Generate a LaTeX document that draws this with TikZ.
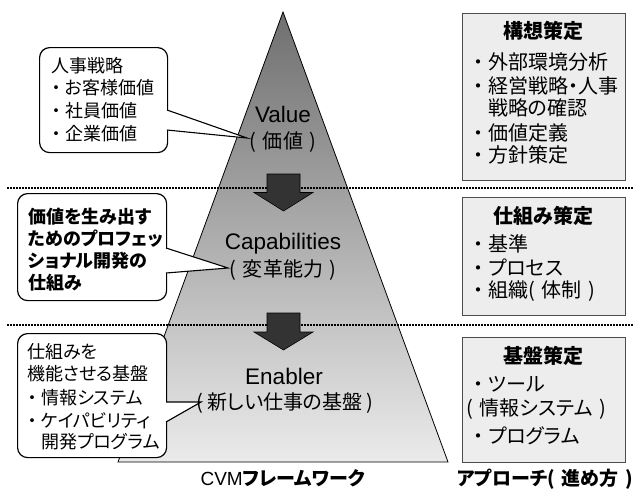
\documentclass[tikz,border=0pt]{standalone}
\usepackage{fontspec}
\setmainfont{Liberation Sans}
\newfontfamily\jp{Noto Sans CJK JP}[RawFeature=+palt]
\newfontfamily\jpf{Noto Sans CJK JP}
\newcommand\bul{{\jpf ・}}
\newcommand\lp{(\hspace{2.5pt} }
\newcommand\rp{ \hspace{2.5pt})}
\definecolor{boxfill}{HTML}{EDEDED}
\definecolor{boxline}{HTML}{4D4D4D}
\definecolor{arrowfill}{HTML}{333333}
\definecolor{tritop}{HTML}{6F6F6F}
\definecolor{tribot}{HTML}{EBEBEB}
\tikzset{
  lt/.style={inner sep=0pt, text height=14.4pt, text depth=3.6pt, anchor=west, font=\jp\fontsize{18}{22}\selectfont},
  lbt/.style={lt, font=\jp\bfseries\fontsize{18}{22}\selectfont},
  rt/.style={inner sep=0pt, text height=16pt, text depth=4pt, anchor=west, font=\jp\fontsize{20}{24}\selectfont},
  rtitle/.style={inner sep=0pt, text height=16pt, text depth=4pt, font=\jp\bfseries\fontsize{20}{24}\selectfont},
  latin/.style={inner sep=0pt, text height=17.6pt, text depth=4.4pt, font=\fontsize{22.5}{26}\selectfont},
  tjp/.style={inner sep=0pt, text height=16pt, text depth=4pt, font=\jp\fontsize{20}{24}\selectfont},
  btm/.style={inner sep=0pt, text height=15.2pt, text depth=3.8pt, font=\fontsize{19}{23}\selectfont},
  callbox/.style={draw=black, line width=1.2pt, fill=white, rounded corners=10pt, inner sep=0pt, anchor=north west},
  apbox/.style={draw=boxline, line width=1.2pt, fill=boxfill, inner sep=0pt, anchor=north west},
  sepline/.style={line width=1.5pt, dash pattern=on 1.5pt off 1.5pt},
  blockarrow/.style={fill=arrowfill, draw=black, line width=0.6pt, line join=miter},
  pointer/.style={draw=black, line width=1.1pt, line join=miter},
}
\begin{document}
\begin{tikzpicture}[x=1pt,y=-1pt]
\useasboundingbox (0,0) rectangle (634,491);
% pyramid
\coordinate (apex) at (283,12);
\coordinate (bl) at (118,462);
\coordinate (br) at (448,462);
\shade[top color=tritop, bottom color=tribot] (apex) -- (br) -- (bl) -- cycle;
\draw[line width=0.8pt] (apex) -- (br) -- (bl) -- cycle;
% separators
\coordinate (s1a) at (7,188); \coordinate (s1b) at (634,188);
\coordinate (s2a) at (7,325); \coordinate (s2b) at (634,325);
\draw[sepline] (s1a) -- (s1b);
\draw[sepline] (s2a) -- (s2b);
% block arrows
\draw[blockarrow, shift={(283.5,174)}] (-16.5,0) -- (16.5,0) -- (16.5,18.5) -- (29.5,18.5) -- (0,37) -- (-29.5,18.5) -- (-16.5,18.5) -- cycle;
\draw[blockarrow, shift={(283.5,313)}] (-16.5,0) -- (16.5,0) -- (16.5,19) -- (29.5,19) -- (0,37) -- (-29.5,19) -- (-16.5,19) -- cycle;
% pyramid labels
\node[latin] (v1) at (283,116) {Value};
\node[tjp] (v2) at (283,142) {\lp 価値\rp};
\node[latin] (c1) at (283,243) {Capabilities};
\node[tjp] (c2) at (283,270) {\lp 変革能力\rp};
\node[latin] (e1) at (284,378) {Enabler};
\node[tjp] (e2) at (285,403) {( 新しい仕事の基盤 )};
% callout 1
\node[callbox, minimum width=128pt, minimum height=105pt] (cb1) at (39,47) {};
\coordinate (p1a) at (167,110); \coordinate (p1b) at (167,130); \coordinate (t1) at (247,138);
\fill[white] ([xshift=-1.3pt]p1a) -- (t1) -- ([xshift=-1.3pt]p1b) -- cycle;
\draw[pointer] (p1a) -- (t1) -- (p1b);
\node[lt] (a1) at (51,67) {人事戦略};
\node[lt] (a2) at (47,89) {\bul お客様価値};
\node[lt] (a3) at (47,112) {\bul 社員価値};
\node[lt] (a4) at (47,135) {\bul 企業価値};
% callout 2
\node[callbox, minimum width=149pt, minimum height=107pt] (cb2) at (17,193) {};
\coordinate (p2a) at (166,248); \coordinate (p2b) at (166,273); \coordinate (t2) at (228,268);
\fill[white] ([xshift=-1.3pt]p2a) -- (t2) -- ([xshift=-1.3pt]p2b) -- cycle;
\draw[pointer] (p2a) -- (t2) -- (p2b);
\node[lbt] (b1) at (28,218) {価値を生み出す};
\node[lbt] (b2) at (28,240) {ためのプロフェッ};
\node[lbt] (b3) at (28,262) {ショナル開発の};
\node[lbt] (b4) at (28,284) {仕組み};
% callout 3
\node[callbox, minimum width=149pt, minimum height=124pt] (cb3) at (17,333) {};
\coordinate (p3a) at (166,402); \coordinate (p3b) at (166,422); \coordinate (t3) at (201,402);
\fill[white] ([xshift=-1.3pt]p3a) -- (t3) -- ([xshift=-1.3pt]p3b) -- cycle;
\draw[pointer] (p3a) -- (t3) -- (p3b);
\node[lt] (d1) at (27,353) {仕組みを};
\node[lt] (d2) at (27,375) {機能させる基盤};
\node[lt] (d3) at (23,399) {\bul 情報システム};
\node[lt] (d4) at (23,422) {\bul ケイパビリティ};
\node[lt] (d5) at (41,443) {開発プログラム};
% approach boxes
\node[apbox, minimum width=163pt, minimum height=167pt] (ra) at (462,13) {};
\node[rtitle] (ra0) at (543.5,32) {構想策定};
\node[rt] (ra1) at (468,63) {\bul 外部環境分析};
\node[rt] (ra2) at (468,87) {\bul 経営戦略・人事};
\node[rt] (ra3) at (488,109) {戦略の確認};
\node[rt] (ra4) at (468,134) {\bul 価値定義};
\node[rt] (ra5) at (468,156) {\bul 方針策定};
\node[apbox, minimum width=163pt, minimum height=118pt] (rb) at (462,197) {};
\node[rtitle] (rb0) at (543.5,217) {仕組み策定};
\node[rt] (rb1) at (468,245) {\bul 基準};
\node[rt] (rb2) at (468,269) {\bul プロセス};
\node[rt] (rb3) at (468,291) {\bul 組織\lp 体制\rp};
\node[apbox, minimum width=163pt, minimum height=125pt] (rc) at (462,337) {};
\node[rtitle] (rc0) at (543.5,357) {基盤策定};
\node[rt] (rc1) at (468,385) {\bul ツール};
\node[rt] (rc2) at (466,409) {\lp 情報システム\rp};
\node[rt] (rc3) at (468,437) {\bul プログラム};
% bottom labels
\node[btm] (fw) at (283,480) {CVM{\jp\bfseries フレームワーク}};
\node[btm] (ap) at (545,480) {\jp\bfseries アプローチ\lp 進め方\rp};
\end{tikzpicture}
\end{document}
